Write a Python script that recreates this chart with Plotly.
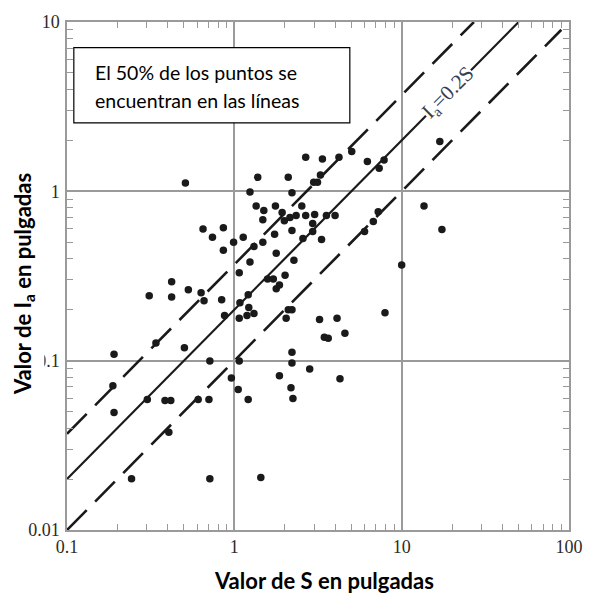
import math
import plotly.graph_objects as go

# Potential maximum retention S (in) and initial abstraction Ia (in) for each storm
S_in = [0.51, 1.38, 2.10, 1.24, 2.21, 1.35, 1.76, 2.53, 1.50, 1.93,
        1.48, 1.99, 2.15, 2.34, 2.67, 3.02, 2.94, 0.65, 0.86, 2.21,
        2.94, 0.74, 1.13, 1.74, 0.99, 1.48, 2.57, 3.32, 1.31, 0.86,
        1.78, 1.24, 2.27, 1.07, 1.58, 1.71, 2.01, 1.86, 1.78, 0.422,
        0.531, 1.21, 0.31, 0.422, 0.633, 0.659, 0.84, 1.08, 1.22, 2.10,
        2.21, 1.31, 0.874, 1.07, 1.19, 2.04, 2.67, 3.36, 4.22, 5.03,
        6.24, 7.85, 7.34, 16.9, 3.27, 2.98, 3.14, 4.0, 3.55, 13.6,
        17.4, 7.24, 6.77, 6.0, 10.0, 7.95, 3.23, 4.11, 4.58, 3.45,
        3.64, 2.21, 2.21, 2.82, 4.28, 2.18, 2.24, 0.191, 0.34, 0.503,
        0.714, 1.07, 0.188, 0.96, 1.86, 0.191, 0.302, 0.385, 0.417, 0.608,
        0.705, 1.055, 1.21, 0.406, 0.243, 0.714, 1.44]
Ia_in = [1.12, 1.21, 1.21, 0.99, 0.98, 0.82, 0.82, 0.82, 0.77, 0.75,
         0.68, 0.67, 0.70, 0.72, 0.72, 0.73, 0.645, 0.60, 0.61, 0.587,
         0.58, 0.535, 0.535, 0.557, 0.50, 0.50, 0.527, 0.52, 0.473, 0.449,
         0.431, 0.382, 0.392, 0.33, 0.304, 0.304, 0.32, 0.28, 0.266, 0.292,
         0.262, 0.245, 0.242, 0.238, 0.252, 0.226, 0.229, 0.22, 0.206, 0.20,
         0.20, 0.19, 0.185, 0.178, 0.185, 0.178, 1.59, 1.55, 1.59, 1.72,
         1.50, 1.53, 1.37, 1.97, 1.25, 1.13, 1.13, 0.72, 0.72, 0.82,
         0.595, 0.758, 0.663, 0.58, 0.367, 0.192, 0.175, 0.178, 0.145, 0.1375,
         0.1357, 0.112, 0.097, 0.0894, 0.0782, 0.0693, 0.0598, 0.109, 0.127, 0.119,
         0.0996, 0.0996, 0.0712, 0.079, 0.0814, 0.0495, 0.059, 0.0582, 0.0582, 0.059,
         0.059, 0.0675, 0.059, 0.0378, 0.0201, 0.0201, 0.0204]

# Reference ratios Ia/S: central line and the band holding half of the points
ratio_mid = 0.2
ratio_upper = 0.37
ratio_lower = 0.1
lower_end_S = 90.0

x_ticks = [0.1, 1, 10, 100]
x_ticktext = ["0.1", "1", "10", "100"]
y_ticks = [0.01, 0.1, 1, 10]
y_ticktext = ["0.01", "0.1", "1", "10"]

S_MIN, IA_MAX = 0.1, 10.0

GRID = "#9a9a9a"
INK = "#1a1a1a"
SERIF = "Liberation Serif, Times New Roman, serif"
SANS = "Lato, Noto Sans, sans-serif"


def minor_positions(ticks):
    """Intermediate values 2..9 within each decade of a log axis."""
    return [d * m for d in ticks[:-1] for m in range(2, 10)]


fig = go.Figure()


def ratio_line(k, s_end, dash, width):
    s_hi = min(IA_MAX / k, s_end)
    fig.add_trace(go.Scatter(
        x=[S_MIN, s_hi], y=[k * S_MIN, k * s_hi], mode="lines",
        line=dict(color=INK, width=width, dash=dash),
        hoverinfo="skip", showlegend=False))


ratio_line(ratio_upper, 1000, "28px,12px", 2.6)
ratio_line(ratio_mid, 1000, "solid", 2.2)
ratio_line(ratio_lower, lower_end_S, "28px,12px", 2.6)

fig.add_trace(go.Scatter(
    x=S_in, y=Ia_in, mode="markers",
    marker=dict(color=INK, size=7.5, line=dict(width=0)),
    showlegend=False))

axis_common = dict(
    type="log", showline=True, linecolor=GRID, linewidth=1.5, mirror="ticks",
    showgrid=True, gridcolor=GRID, gridwidth=1.5,
    ticks="inside", ticklen=7, tickcolor=GRID, tickwidth=1.3,
    tickfont=dict(family=SERIF, size=18, color="#2e2a25"),
    zeroline=False,
)
minor_common = dict(ticks="inside", ticklen=6, tickcolor=GRID, tickwidth=1.3,
                    showgrid=False, tickmode="array")

fig.update_xaxes(range=[-1, 2], tickmode="array", tickvals=x_ticks, ticktext=x_ticktext,
                 minor=dict(tickvals=minor_positions(x_ticks), **minor_common),
                 **axis_common)
fig.update_yaxes(range=[-2, 1], tickmode="array", tickvals=y_ticks, ticktext=y_ticktext,
                 minor=dict(tickvals=minor_positions(y_ticks), **minor_common),
                 ticklabelstandoff=2, **axis_common)

# Label on the central line
s_lab = 19.0
fig.add_annotation(
    x=math.log10(s_lab), y=math.log10(ratio_mid * s_lab),
    xref="x", yref="y", text="I<sub>a</sub>=0.2S", showarrow=False,
    textangle=-45, bgcolor="white", borderpad=0,
    font=dict(family=SERIF, size=21, color="#33404f"))

# Note box
fig.add_shape(type="rect", xref="paper", yref="paper",
              x0=0.0136, x1=0.5634, y0=0.8016, y1=0.9494,
              line=dict(color="black", width=1.2), fillcolor="white", layer="above")
for txt, yy in [("El 50% de los puntos se", 0.9008), ("encuentran en las líneas", 0.8463)]:
    fig.add_annotation(x=0.0526, y=yy, xref="paper", yref="paper", text=txt,
                       showarrow=False, xanchor="left", yanchor="middle",
                       font=dict(family=SANS, size=19.5, color="black"))

# Axis titles
fig.add_annotation(x=0.5127, y=-0.0992, xref="paper", yref="paper",
                   text="<b>Valor de S en pulgadas</b>", showarrow=False,
                   xanchor="center", yanchor="middle",
                   font=dict(family=SANS, size=22, color="black"))
fig.add_annotation(x=-0.0858, y=0.484, xref="paper", yref="paper",
                   text="<b>Valor de I<sub>a</sub> en pulgadas</b>", showarrow=False,
                   textangle=-90, xanchor="center", yanchor="middle",
                   bgcolor="white", borderpad=5,
                   font=dict(family=SANS, size=22, color="black"))

fig.update_layout(
    width=595, height=596,
    margin=dict(l=67, r=15, t=16, b=66),
    paper_bgcolor="white", plot_bgcolor="white",
    showlegend=False,
)

fig.write_html("out.html")
